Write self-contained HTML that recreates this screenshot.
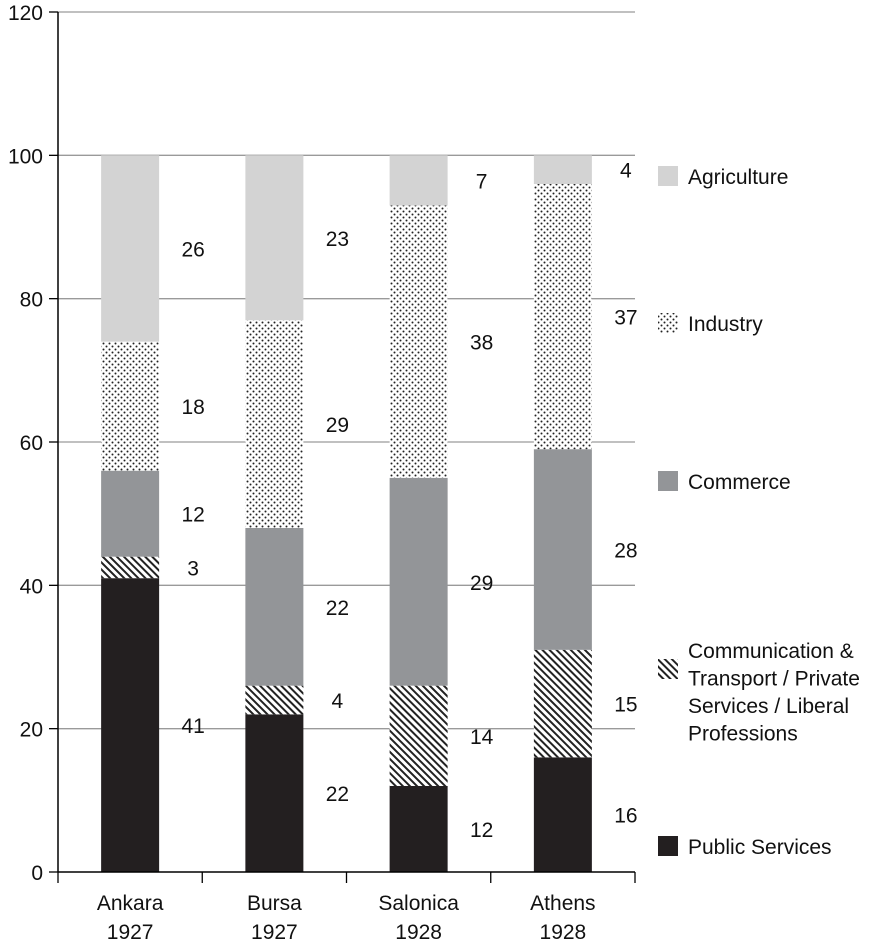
<!DOCTYPE html>
<html><head><meta charset="utf-8"><style>
body{margin:0;background:#fff}
svg{display:block;font-family:"Liberation Sans",Arial,sans-serif}
</style></head><body>
<svg id="chart" width="877" height="943" viewBox="0 0 877 943">
<defs>
<pattern id="dots" width="6" height="6" patternUnits="userSpaceOnUse">
<rect width="6" height="6" fill="#fff"/><circle cx="1.5" cy="1.5" r="1" fill="#222"/><circle cx="4.5" cy="4.5" r="1" fill="#222"/>
</pattern>
<pattern id="hatch" width="5" height="5" patternUnits="userSpaceOnUse" patternTransform="rotate(45)">
<rect width="5" height="5" fill="#fff"/><rect width="5" height="2" fill="#222"/>
</pattern>
</defs>
<g id="grid"></g><g id="bars"></g><g id="axes"></g><g id="legend"></g>
</svg>
<script>
const categories=[["Ankara","1927"],["Bursa","1927"],["Salonica","1928"],["Athens","1928"]];
const seriesNames=["Public Services","Communication & Transport / Private Services / Liberal Professions","Commerce","Industry","Agriculture"];
const publicServices=[41,22,12,16];
const communication=[3,4,14,15];
const commerce=[12,22,29,28];
const industry=[18,29,38,37];
const agriculture=[26,23,7,4];
const yTicks=[0,20,40,60,80,100,120];
const series=[publicServices,communication,commerce,industry,agriculture];
const fills=["#231f20","url(#hatch)","#939598","url(#dots)","#d3d3d3"];
const NS="http://www.w3.org/2000/svg";
const X0=58,X1=635,Y0=872,Y120=12,FS=21;
const y=v=>Y0-(Y0-Y120)*v/120;
const bw=(X1-X0)/categories.length;
const cx=i=>X0+bw*(i+0.5);
function mk(tag,attrs,parent,text){const e=document.createElementNS(NS,tag);for(const k in attrs)e.setAttribute(k,attrs[k]);if(text!==undefined)e.textContent=text;parent.appendChild(e);return e;}
const grid=document.getElementById('grid'),bars=document.getElementById('bars'),axes=document.getElementById('axes'),legend=document.getElementById('legend');
yTicks.forEach(t=>{
 if(t>0){const g=mk('line',{x1:X0,x2:X1,y1:y(t),y2:y(t),stroke:'#9a9a9a','stroke-width':1.3},grid);
 
 }
 mk('line',{x1:X0-9,x2:X0,y1:y(t),y2:y(t),stroke:'#000','stroke-width':1.3},axes);
 const l=mk('text',{x:X0-15,y:y(t)+8,'text-anchor':'end','font-size':FS,fill:'#111'},axes,t);
 
 
});
categories.forEach((c,i)=>{
 let cum=0;
 series.forEach((s,k)=>{
  const v=s[i];
  const r=mk('rect',{x:cx(i)-29,width:58,y:y(cum+v),height:y(cum)-y(cum+v),fill:fills[k]},bars);
  
  
  const t=mk('text',{x:cx(i)+63,y:y(cum+v/2)+8,'text-anchor':'middle','font-size':FS,fill:'#111'},bars,v);
  
  
  cum+=v;
 });
 const lb=mk('text',{x:cx(i),y:910,'text-anchor':'middle','font-size':FS,fill:'#111'},axes);
 
 
 mk('tspan',{x:cx(i),dy:0},lb,c[0]);mk('tspan',{x:cx(i),dy:29},lb,c[1]);
});
for(let i=0;i<=categories.length;i++){mk('line',{x1:X0+bw*i,x2:X0+bw*i,y1:Y0,y2:Y0+11,stroke:'#000','stroke-width':1.3},axes);}
const ya=mk('line',{x1:X0,x2:X0,y1:Y120,y2:Y0,stroke:'#000','stroke-width':1.5},axes);


const xa=mk('line',{x1:X0,x2:X1,y1:Y0,y2:Y0,stroke:'#000','stroke-width':1.5},axes);


const legY=[846,669,481,323,176];
const legLines=[["Public Services"],["Communication &","Transport / Private","Services / Liberal","Professions"],["Commerce"],["Industry"],["Agriculture"]];
series.forEach((s,k)=>{
 const sw=mk('rect',{x:658,y:legY[k]-10,width:20,height:20,fill:fills[k]},legend);
 
 
 const lines=legLines[k];
 const t=mk('text',{x:688,y:lines.length>1?658:legY[k]+8,'font-size':FS,fill:'#111'},legend);
 
 
 lines.forEach((ln,j)=>mk('tspan',{x:688,dy:j?27.5:0},t,ln));
});
</script>
</body></html>
